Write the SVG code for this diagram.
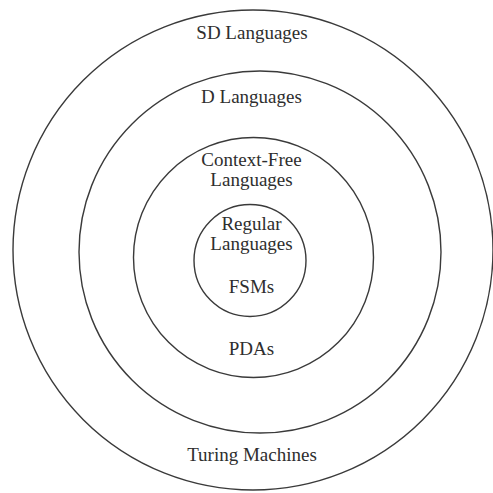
<svg xmlns="http://www.w3.org/2000/svg" width="493" height="493" viewBox="0 0 493 493">
<style>
.ring{fill:none;stroke:#3a3a3a;stroke-width:1.4}
.lbl{font-family:"Liberation Serif","Times New Roman",serif;font-size:19px;fill:#2e2e2e;text-anchor:middle}
</style>
<rect width="493" height="493" fill="#ffffff"/>
<g id="sd-languages">
<circle class="ring" cx="253" cy="250" r="240"/>
<text class="lbl" x="252" y="39">SD Languages</text>
<text class="lbl" x="252" y="461">Turing Machines</text>
</g>
<g id="d-languages">
<circle class="ring" cx="260" cy="252" r="181"/>
<text class="lbl" x="251.5" y="102.5">D Languages</text>
</g>
<g id="context-free">
<circle class="ring" cx="253.5" cy="257.5" r="120"/>
<text class="lbl" x="251.5" y="166">Context-Free</text>
<text class="lbl" x="251.5" y="186">Languages</text>
<text class="lbl" x="251.5" y="355">PDAs</text>
</g>
<g id="regular">
<circle class="ring" cx="250" cy="260.5" r="56"/>
<text class="lbl" x="251.5" y="230">Regular</text>
<text class="lbl" x="251.5" y="250">Languages</text>
<text class="lbl" x="251.5" y="293">FSMs</text>
</g>
<g id="connectors"></g>
</svg>
